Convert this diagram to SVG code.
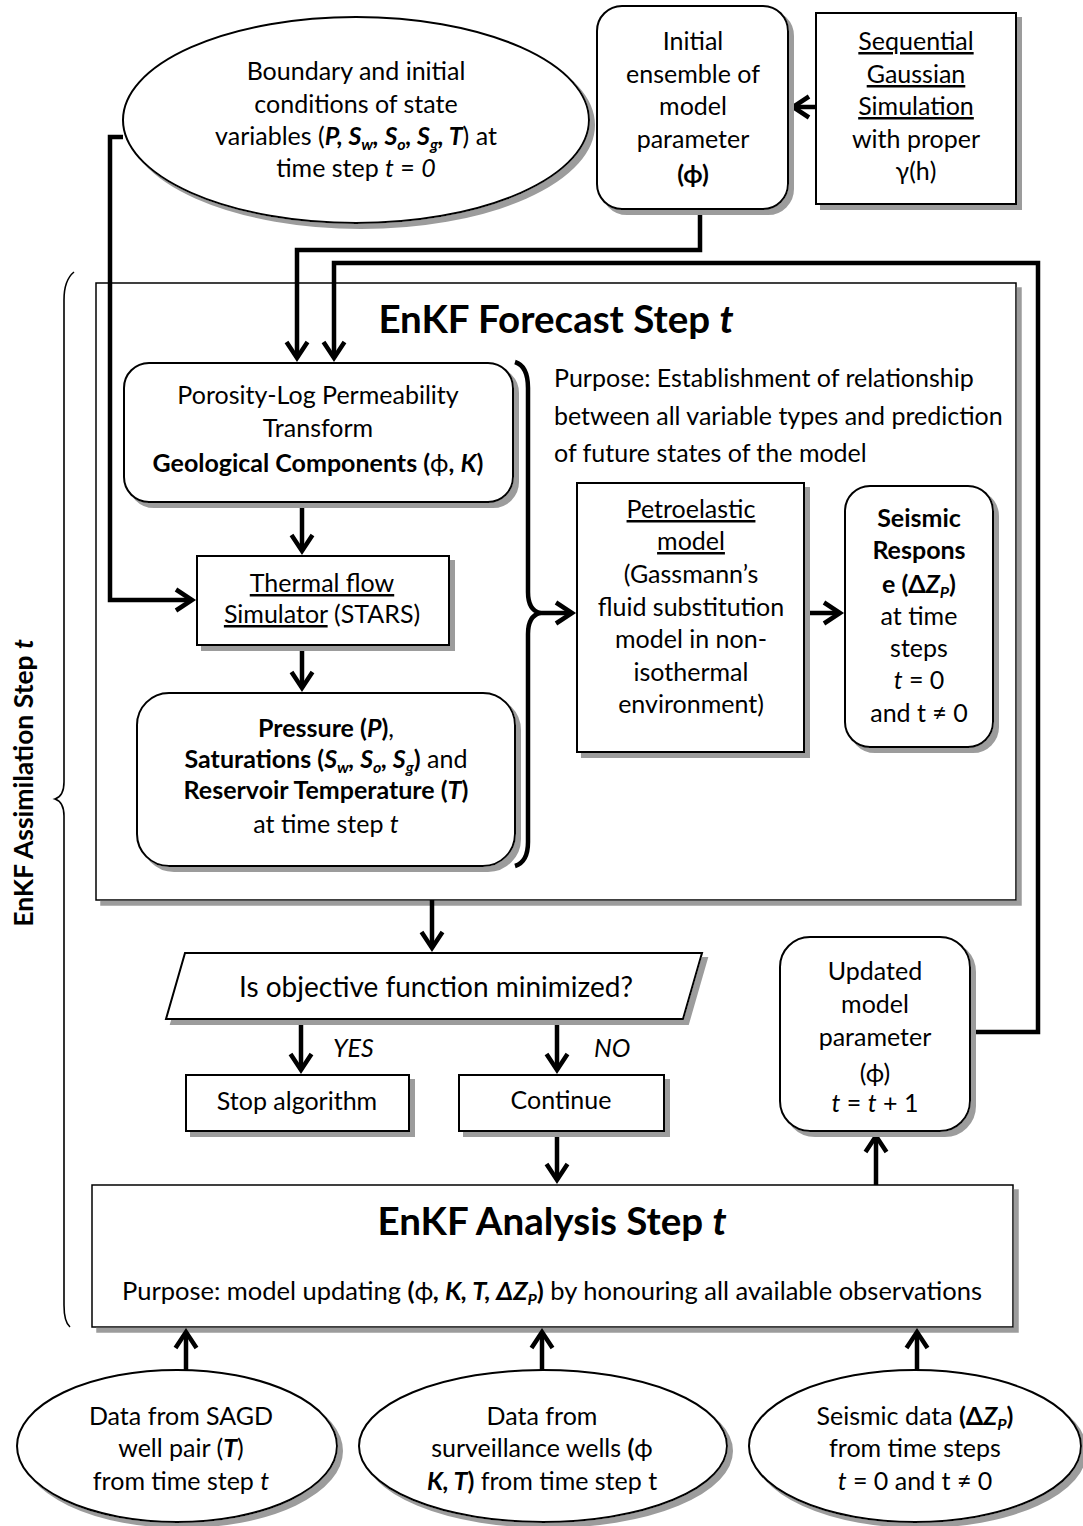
<svg xmlns="http://www.w3.org/2000/svg" width="1083" height="1526" viewBox="0 0 1083 1526">
  <style>
    text { font-family: Lato, "DejaVu Sans", sans-serif; font-size: 25px; fill: #000; }
    .m { text-anchor: middle; }
    .b { font-weight: 700; }
    .i { font-style: italic; }
    .u { text-decoration: underline; }
    .title { font-size: 38.5px; font-weight: 700; }
    .n { fill: #fff; stroke: #000; stroke-width: 2; filter: url(#sh); }
    .frame { fill: #fff; stroke: #000; stroke-width: 1.5; filter: url(#sh); }
    .c { fill: none; stroke: #000; stroke-width: 4.5; stroke-linejoin: miter; marker-end: url(#ah); }
    .plain { fill: none; stroke: #000; stroke-width: 4.5; }
  </style>
  <defs>
    <filter id="sh" x="-5%" y="-5%" width="115%" height="115%">
      <feOffset in="SourceAlpha" dx="5" dy="5" result="off"/>
      <feFlood flood-color="#9c9c9c"/>
      <feComposite in2="off" operator="in" result="shadow"/>
      <feMerge><feMergeNode in="shadow"/><feMergeNode in="SourceGraphic"/></feMerge>
    </filter>
    <marker id="ah" markerUnits="userSpaceOnUse" markerWidth="40" markerHeight="40" viewBox="-20 -20 40 40" refX="0" refY="0" orient="auto" overflow="visible">
      <path d="M-16,-10.5 L0,0 L-16,10.5" fill="none" stroke="#000" stroke-width="4.5"/>
    </marker>
  </defs>

  <rect width="1083" height="1526" fill="#fff"/>

  <!-- Assimilation brace and label -->
  <g id="assimilation">
    <path d="M74,272 Q64,280 64,300 L64,782 Q64,796 55,799 Q64,802 64,816 L64,1305 Q64,1322 70,1327" fill="none" stroke="#000" stroke-width="1.6"/>
    <text class="m b" style="font-size:26.5px" transform="translate(33,783) rotate(-90)">EnKF Assimilation Step <tspan class="i">t</tspan></text>
  </g>

  <!-- Forecast frame -->
  <g id="forecast">
    <rect class="frame" x="96" y="283" width="920" height="617"/>
    <text class="m title" x="556" y="333">EnKF Forecast Step <tspan class="i">t</tspan></text>
    <text x="554" y="387">Purpose: Establishment of relationship</text>
    <text x="554" y="425">between all variable types and prediction</text>
    <text x="554" y="462">of future states of the model</text>
    <path class="plain" d="M515,362 Q528,366 528,388 L528,592 Q528,610 540,613 Q528,616 528,634 L528,842 Q528,862 515,866"/>
  </g>

  <!-- Analysis frame -->
  <g id="analysis">
    <rect class="frame" x="92" y="1185" width="921" height="142"/>
    <text class="m title" x="552" y="1235">EnKF Analysis Step <tspan class="i">t</tspan></text>
    <text class="m" style="font-size:25.5px" x="552" y="1300">Purpose: model updating <tspan class="b">(</tspan>ϕ<tspan class="b i">, K, T, ΔZ</tspan><tspan class="b i" style="font-size:16px" dy="5">P</tspan><tspan class="b" dy="-5">)</tspan> by honouring all available observations</text>
  </g>

  <!-- Connectors -->
  <g id="connectors">
    <path class="c" d="M816,107 H793"/>
    <path class="c" d="M700,209 V250 H297 V358"/>
    <path class="c" d="M970,1032 H1038 V263 H334 V358"/>
    <path class="c" d="M123,137 H110 V600 H192"/>
    <path class="c" d="M302,502 V551"/>
    <path class="c" d="M302,645 V688"/>
    <path class="c" d="M540,613 H572"/>
    <path class="c" d="M804,613 H840"/>
    <path class="c" d="M432,900 V948"/>
    <path class="c" d="M301,1019 V1070"/>
    <path class="c" d="M557,1019 V1070"/>
    <path class="c" d="M557,1131 V1180"/>
    <path class="c" d="M876,1185 V1136"/>
    <path class="c" d="M186,1370 V1332"/>
    <path class="c" d="M542,1370 V1332"/>
    <path class="c" d="M917,1370 V1332"/>
    <text class="i" x="333" y="1057">YES</text>
    <text class="i" x="594" y="1057">NO</text>
  </g>

  <!-- Nodes -->
  <g id="boundary">
    <ellipse class="n" cx="356" cy="120" rx="233" ry="103"/>
    <text class="m" x="356" y="80">Boundary and initial</text>
    <text class="m" x="356" y="113">conditions of state</text>
    <text class="m" x="356" y="145">variables (<tspan class="b i">P, S</tspan><tspan class="b i" style="font-size:16px" dy="5">w</tspan><tspan class="b i" dy="-5">, S</tspan><tspan class="b i" style="font-size:16px" dy="5">o</tspan><tspan class="b i" dy="-5">, S</tspan><tspan class="b i" style="font-size:16px" dy="5">g</tspan><tspan class="b i" dy="-5">, T</tspan>) at</text>
    <text class="m" x="356" y="177">time step <tspan class="i">t</tspan> = <tspan class="i">0</tspan></text>
  </g>

  <g id="initial-ensemble">
    <rect class="n" x="597" y="6" width="191" height="203" rx="25"/>
    <text class="m" x="693" y="50">Initial</text>
    <text class="m" x="693" y="83">ensemble of</text>
    <text class="m" x="693" y="115">model</text>
    <text class="m" x="693" y="148">parameter</text>
    <text class="m b" x="693" y="183">(ϕ)</text>
  </g>

  <g id="sgs">
    <rect class="n" x="816" y="13" width="200" height="191"/>
    <text class="m u" x="916" y="50">Sequential</text>
    <text class="m u" x="916" y="83">Gaussian</text>
    <text class="m u" x="916" y="115">Simulation</text>
    <text class="m" x="916" y="148">with proper</text>
    <text class="m" x="916" y="180">γ(h)</text>
  </g>

  <g id="porosity">
    <rect class="n" x="124" y="363" width="389" height="139" rx="25"/>
    <text class="m" x="318" y="404">Porosity-Log Permeability</text>
    <text class="m" x="318" y="437">Transform</text>
    <text class="m b" x="318" y="472">Geological Components (<tspan style="font-weight:400">ϕ</tspan>, <tspan class="i">K</tspan>)</text>
  </g>

  <g id="thermal">
    <rect class="n" x="197" y="556" width="252" height="89"/>
    <text class="m u" x="322" y="592">Thermal flow</text>
    <text class="m" x="322" y="623"><tspan class="u">Simulator</tspan> (STARS)</text>
  </g>

  <g id="states">
    <rect class="n" x="137" y="693" width="378" height="173" rx="32"/>
    <text class="m" x="326" y="737"><tspan class="b">Pressure (</tspan><tspan class="b i">P</tspan><tspan class="b">)</tspan>,</text>
    <text class="m" x="326" y="768"><tspan class="b">Saturations (</tspan><tspan class="b i">S</tspan><tspan class="b i" style="font-size:16px" dy="5">w</tspan><tspan class="b i" dy="-5">, S</tspan><tspan class="b i" style="font-size:16px" dy="5">o</tspan><tspan class="b i" dy="-5">, S</tspan><tspan class="b i" style="font-size:16px" dy="5">g</tspan><tspan class="b" dy="-5">)</tspan> and</text>
    <text class="m b" x="326" y="799">Reservoir Temperature (<tspan class="i">T</tspan>)</text>
    <text class="m" x="326" y="833">at time step <tspan class="i">t</tspan></text>
  </g>

  <g id="petroelastic">
    <rect class="n" x="577" y="483" width="227" height="269"/>
    <text class="m u" x="691" y="518">Petroelastic</text>
    <text class="m u" x="691" y="550">model</text>
    <text class="m" x="691" y="583">(Gassmann’s</text>
    <text class="m" x="691" y="616">fluid substitution</text>
    <text class="m" x="691" y="648">model in non-</text>
    <text class="m" x="691" y="681">isothermal</text>
    <text class="m" x="691" y="713">environment)</text>
  </g>

  <g id="seismic-response">
    <rect class="n" x="845" y="486" width="148" height="261" rx="25"/>
    <text class="m b" x="919" y="527">Seismic</text>
    <text class="m b" x="919" y="559">Respons</text>
    <text class="m b" x="919" y="593">e (Δ<tspan class="i">Z</tspan><tspan class="i" style="font-size:16px" dy="5">P</tspan><tspan dy="-5">)</tspan></text>
    <text class="m" x="919" y="625">at time</text>
    <text class="m" x="919" y="657">steps</text>
    <text class="m" x="919" y="689"><tspan class="i">t</tspan> = 0</text>
    <text class="m" x="919" y="722">and t ≠ 0</text>
  </g>

  <g id="decision">
    <polygon class="n" points="185,953 702,953 683,1019 166,1019"/>
    <text class="m" style="font-size:28px" x="436" y="997">Is objective function minimized?</text>
  </g>

  <g id="stop">
    <rect class="n" x="186" y="1075" width="223" height="56"/>
    <text class="m" x="297" y="1110">Stop algorithm</text>
  </g>

  <g id="continue">
    <rect class="n" x="459" y="1075" width="205" height="56"/>
    <text class="m" x="561" y="1109">Continue</text>
  </g>

  <g id="updated">
    <rect class="n" x="780" y="937" width="190" height="194" rx="30"/>
    <text class="m" x="875" y="980">Updated</text>
    <text class="m" x="875" y="1013">model</text>
    <text class="m" x="875" y="1046">parameter</text>
    <text class="m" x="875" y="1082">(ϕ)</text>
    <text class="m" x="875" y="1112"><tspan class="i">t</tspan> = <tspan class="i">t</tspan> + 1</text>
  </g>

  <g id="sagd-data">
    <ellipse class="n" cx="177" cy="1446" rx="160" ry="76"/>
    <text class="m" x="181" y="1425">Data from SAGD</text>
    <text class="m" x="181" y="1457">well pair (<tspan class="b i">T</tspan>)</text>
    <text class="m" x="181" y="1490">from time step <tspan class="i">t</tspan></text>
  </g>

  <g id="surveillance-data">
    <ellipse class="n" cx="543" cy="1446" rx="184" ry="76"/>
    <text class="m" x="542" y="1425">Data from</text>
    <text class="m" x="542" y="1457">surveillance wells <tspan class="b">(</tspan>ϕ</text>
    <text class="m" x="542" y="1490"><tspan class="b i">K, T</tspan><tspan class="b">)</tspan> from time step t</text>
  </g>

  <g id="seismic-data">
    <ellipse class="n" cx="915" cy="1446" rx="166" ry="76"/>
    <text class="m" x="915" y="1425">Seismic data <tspan class="b">(Δ<tspan class="i">Z</tspan></tspan><tspan class="b i" style="font-size:16px" dy="5">P</tspan><tspan class="b" dy="-5">)</tspan></text>
    <text class="m" x="915" y="1457">from time steps</text>
    <text class="m" x="915" y="1490"><tspan class="i">t</tspan> = 0 and t ≠ 0</text>
  </g>
</svg>
